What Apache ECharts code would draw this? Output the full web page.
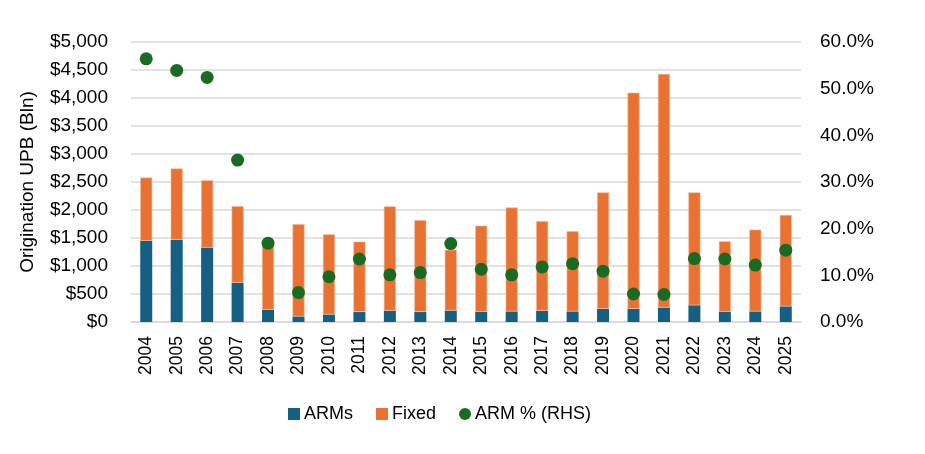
<!DOCTYPE html>
<html>
<head>
<meta charset="utf-8">
<script src="https://cdn.jsdelivr.net/npm/echarts@6/dist/echarts.min.js"></script>
<style>
  html, body { margin: 0; padding: 0; background: #fff; }
  #chart { width: 925px; height: 454px; }
</style>
</head>
<body>
<div id="chart"></div>
<script>
// 年份
var years = ['2004','2005','2006','2007','2008','2009','2010','2011','2012','2013','2014',
             '2015','2016','2017','2018','2019','2020','2021','2022','2023','2024','2025'];
// ARMs 发放量 ($Bln)
var arms = [1450, 1470, 1330, 700, 220, 100, 135, 180, 200, 180, 205,
            185, 190, 200, 190, 235, 235, 260, 300, 185, 190, 280];
// 总量 ($Bln)
var totals = [2580, 2740, 2530, 2070, 1405, 1745, 1565, 1435, 2065, 1820, 1290,
              1720, 2045, 1800, 1620, 2315, 4095, 4430, 2315, 1440, 1650, 1910];
// ARM 占比 (%)
var armPct = [56.4, 53.9, 52.4, 34.7, 16.9, 6.3, 9.7, 13.5, 10.1, 10.6, 16.8,
              11.3, 10.1, 11.8, 12.5, 10.9, 6.0, 5.9, 13.6, 13.5, 12.2, 15.4];

var fixed = [];
for (var i = 0; i < totals.length; i++) {
    fixed.push(totals[i] - arms[i]);
}

var chartDom = document.getElementById('chart');
var myChart = echarts.init(chartDom);
var font = 'Liberation Sans, Arial, sans-serif';
var option = {
    animation: false,
    textStyle: { fontFamily: font, color: '#000' },
    grid: { left: 131, right: 124, top: 42, bottom: 132 },
    legend: {
        data: [
            { name: 'ARMs', icon: 'rect' },
            { name: 'Fixed', icon: 'rect', itemStyle: { borderWidth: 0 } },
            { name: 'ARM % (RHS)', icon: 'circle' }
        ],
        left: 283,
        top: 400,
        itemWidth: 12,
        itemHeight: 12,
        itemGap: 23,
        textStyle: { fontSize: 18, color: '#000', fontFamily: font, padding: [0, 0, 0, -1] }
    },
    xAxis: {
        type: 'category',
        data: years,
        axisTick: { show: false },
        axisLine: { lineStyle: { color: '#d9d9d9', width: 1.5 } },
        axisLabel: { rotate: 90, fontSize: 17.5, color: '#000', margin: 14, interval: 0 }
    },
    yAxis: [
        {
            type: 'value',
            min: 0, max: 5000, interval: 500,
            name: 'Origination UPB (Bln)',
            nameLocation: 'middle',
            nameGap: 94,
            nameTextStyle: { fontSize: 19, color: '#000' },
            axisLabel: {
                fontSize: 19, color: '#000', margin: 23,
                formatter: function (v) { return '$' + v.toLocaleString('en-US'); }
            },
            splitLine: { lineStyle: { color: '#d9d9d9', width: 1.5 } }
        },
        {
            type: 'value',
            min: 0, max: 60, interval: 10,
            position: 'right',
            axisLabel: {
                fontSize: 19, color: '#000', margin: 19,
                formatter: function (v) { return v.toFixed(1) + '%'; }
            },
            splitLine: { show: false }
        }
    ],
    series: [
        {
            name: 'ARMs',
            type: 'bar',
            stack: 'upb',
            barWidth: 12,
            itemStyle: { color: '#156082' },
            data: arms
        },
        {
            name: 'Fixed',
            type: 'bar',
            stack: 'upb',
            barWidth: 12,
            itemStyle: { color: '#E97132', borderColor: '#f4b99a', borderWidth: 0.6 },
            data: fixed
        },
        {
            name: 'ARM % (RHS)',
            type: 'scatter',
            yAxisIndex: 1,
            symbolSize: 13,
            itemStyle: { color: '#196B24', opacity: 1 },
            data: armPct
        }
    ]
};
option && myChart.setOption(option);
</script>
</body>
</html>
